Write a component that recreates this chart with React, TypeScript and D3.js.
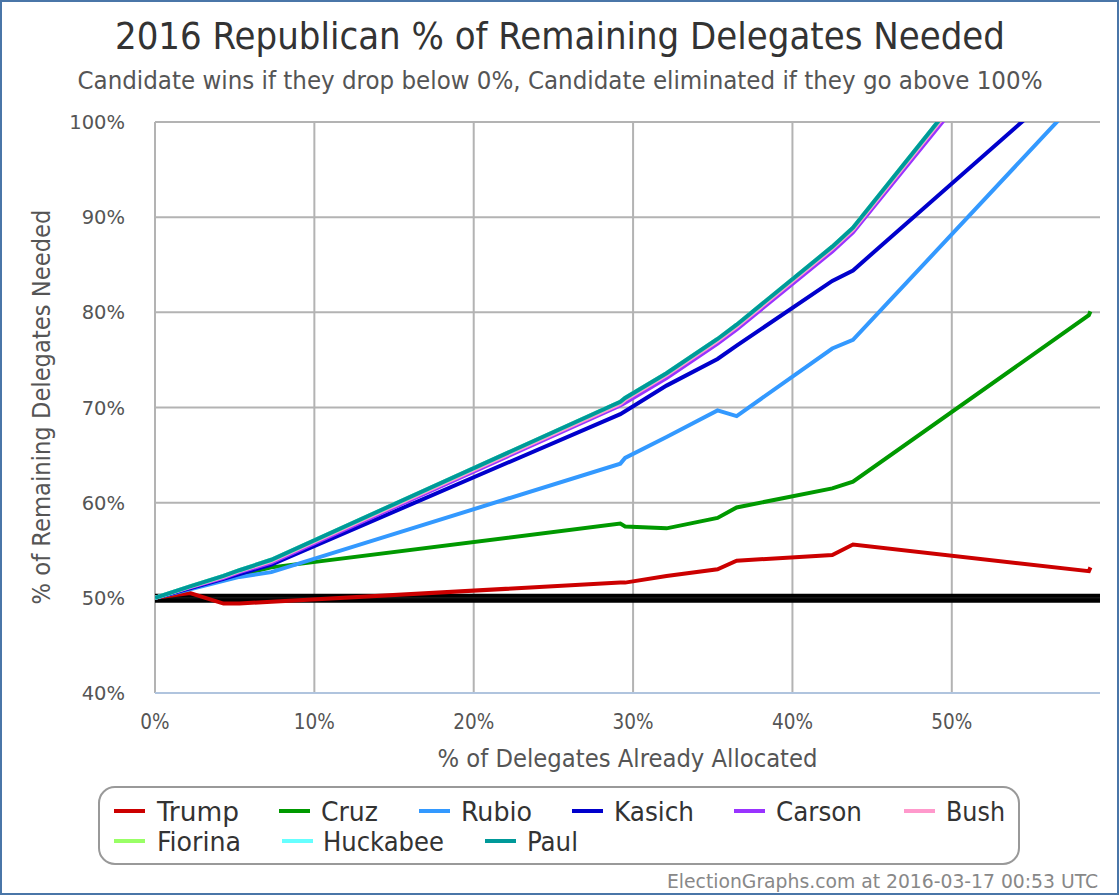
import React from "react";
import * as d3 from "d3";

const xPoints = [0, 2.2, 4.3, 5.3, 7.3, 29.2, 29.5, 32.1, 35.3, 36.5, 42.5, 43.8, 58.6, 58.7];

const trump = [50.0, 50.5, 49.4, 49.4, 49.6, 51.6, 51.6, 52.3, 53.0, 53.9, 54.5, 55.6, 52.8, 53.2];
const cruz = [50.0, 51.0, 51.9, 52.4, 53.2, 57.8, 57.5, 57.3, 58.4, 59.5, 61.5, 62.2, 79.7, 80.1];
const rubio = [50.0, 50.9, 51.8, 52.2, 52.7, 64.1, 64.7, 66.9, 69.7, 69.1, 76.2, 77.1, 103.6, 103.9];
const kasich = [50.0, 51.0, 52.0, 52.5, 53.5, 69.3, 69.6, 72.3, 75.1, 76.5, 83.3, 84.4, 106.2, 106.4];
const carson = [50.0, 51.1, 52.1, 52.7, 53.7, 70.2, 70.5, 73.1, 76.7, 78.2, 86.4, 88.4, 119.0, 119.2];
const bush = [50.0, 51.15, 52.2, 52.8, 53.85, 70.4, 70.8, 73.4, 77.0, 78.5, 86.7, 88.7, 119.5, 119.7];
const fiorina = [50.0, 51.2, 52.3, 52.9, 54.0, 70.6, 71.0, 73.6, 77.2, 78.7, 86.9, 88.9, 119.8, 120.0];
const huckabee = [50.0, 51.2, 52.3, 52.9, 54.0, 70.6, 71.0, 73.6, 77.2, 78.7, 86.9, 88.9, 119.8, 120.0];
const paul = [50.0, 51.2, 52.3, 52.9, 54.0, 70.6, 71.0, 73.6, 77.2, 78.7, 86.9, 88.9, 119.8, 120.0];

const candidateNames = ["Trump", "Cruz", "Rubio", "Kasich", "Carson", "Bush", "Fiorina", "Huckabee", "Paul"];
const candidateColors = ["#cc0000", "#009900", "#3399ff", "#0000cc", "#9933ff", "#ff99cc", "#99ff66", "#66ffff", "#009999"];
const candidateValues = [trump, cruz, rubio, kasich, carson, bush, fiorina, huckabee, paul];

const xTicks = [0, 10, 20, 30, 40, 50];
const yTicks = [40, 50, 60, 70, 80, 90, 100];

const W = 1120;
const H = 896;
const left = 155;
const right = 1100;
const top = 122;
const bottom = 693;

const COND = "'DejaVu Sans Condensed', 'DejaVu Sans', sans-serif";
const SANS = "'DejaVu Sans', sans-serif";

// legend layout (positions only)
const legendLayout = [
  { sx: 114, tx: 157, row: 0, w: 82 },
  { sx: 279, tx: 321, row: 0, w: 57 },
  { sx: 419, tx: 461, row: 0, w: 71 },
  { sx: 572, tx: 614, row: 0, w: 80 },
  { sx: 734, tx: 776, row: 0, w: 86 },
  { sx: 904, tx: 946, row: 0, w: 59 },
  { sx: 114, tx: 157, row: 1, w: 84 },
  { sx: 282, tx: 323, row: 1, w: 121 },
  { sx: 485, tx: 527, row: 1, w: 51 },
];

export default function App() {
  const x = d3.scaleLinear().domain([0, 59.3]).range([left, right]);
  const y = d3.scaleLinear().domain([40, 100]).range([bottom, top]);
  const line = d3
    .line<[number, number]>()
    .x((d) => x(d[0]))
    .y((d) => y(d[1]));

  return (
    <svg
      width={W}
      height={H}
      style={{ position: "absolute", left: 0, top: 0, background: "#fff" }}
    >
      <defs>
        <clipPath id="plotclip">
          <rect x={left} y={top} width={right - left} height={bottom - top} />
        </clipPath>
      </defs>
      <rect x={1} y={1} width={W - 3} height={H - 3} fill="#fff" stroke="#4a76a8" strokeWidth={2} />

      <text x={560} y={49} textAnchor="middle" fontFamily={COND} fontSize={38} fill="#333"
        textLength={890} lengthAdjust="spacingAndGlyphs">
        2016 Republican % of Remaining Delegates Needed
      </text>
      <text x={560} y={89} textAnchor="middle" fontFamily={COND} fontSize={25} fill="#555"
        textLength={965} lengthAdjust="spacingAndGlyphs">
        Candidate wins if they drop below 0%, Candidate eliminated if they go above 100%
      </text>

      {/* gridlines */}
      {yTicks.filter((t) => t > 40).map((t) => (
        <line key={"gy" + t} x1={left} x2={right} y1={y(t)} y2={y(t)} stroke="#b3b3b3" strokeWidth={2} />
      ))}
      {xTicks.filter((t) => t > 0).map((t) => (
        <line key={"gx" + t} x1={x(t)} x2={x(t)} y1={top} y2={bottom} stroke="#b3b3b3" strokeWidth={2} />
      ))}
      <line x1={left} x2={left} y1={top} y2={bottom} stroke="#b3b3b3" strokeWidth={2} />
      <line x1={left} x2={right} y1={bottom} y2={bottom} stroke="#b0c4de" strokeWidth={2} />

      {/* 50% threshold */}
      <line x1={left} x2={right} y1={y(50) + 0.5} y2={y(50) + 0.5} stroke="#000" strokeWidth={9} />
      <line x1={left} x2={right} y1={y(50)} y2={y(50)} stroke="#222" strokeWidth={1} />

      <g clipPath="url(#plotclip)">
        {candidateValues.map((vals, i) => (
          <path
            key={candidateNames[i]}
            d={line(vals.map((v, j) => [xPoints[j], v] as [number, number])) || ""}
            fill="none"
            stroke={candidateColors[i]}
            strokeWidth={4}
            strokeLinejoin="miter"
          />
        ))}
      </g>

      {/* axis labels */}
      {yTicks.map((t) => (
        <text key={"yl" + t} x={125} y={y(t) + 7} textAnchor="end" fontFamily={SANS} fontSize={19.5} fill="#555">
          {t}%
        </text>
      ))}
      {xTicks.map((t) => (
        <text key={"xl" + t} x={x(t)} y={729} textAnchor="middle" fontFamily={COND} fontSize={20.5} fill="#555">
          {t}%
        </text>
      ))}
      <text x={(left + right) / 2} y={767} textAnchor="middle" fontFamily={COND} fontSize={25} fill="#555"
        textLength={380} lengthAdjust="spacingAndGlyphs">
        % of Delegates Already Allocated
      </text>
      <text
        transform={`translate(50, 407) rotate(-90)`}
        textAnchor="middle"
        fontFamily={COND}
        fontSize={25}
        fill="#555"
        textLength={395}
        lengthAdjust="spacingAndGlyphs"
      >
        % of Remaining Delegates Needed
      </text>

      {/* legend */}
      <rect x={99} y={787} width={920} height={77} rx={16} ry={16} fill="#fff" stroke="#999" strokeWidth={2} />
      {legendLayout.map((d, i) => (
        <g key={"lg" + i}>
          <line
            x1={d.sx}
            x2={d.sx + 31}
            y1={811 + d.row * 30}
            y2={811 + d.row * 30}
            stroke={candidateColors[i]}
            strokeWidth={4}
          />
          <text x={d.tx} y={821 + d.row * 30} fontFamily={COND} fontSize={27} fill="#333"
            textLength={d.w} lengthAdjust="spacingAndGlyphs">
            {candidateNames[i]}
          </text>
        </g>
      ))}

      <text x={1098} y={888} textAnchor="end" fontFamily={COND} fontSize={20} fill="#888"
        textLength={431} lengthAdjust="spacingAndGlyphs">
        ElectionGraphs.com at 2016-03-17 00:53 UTC
      </text>
    </svg>
  );
}
